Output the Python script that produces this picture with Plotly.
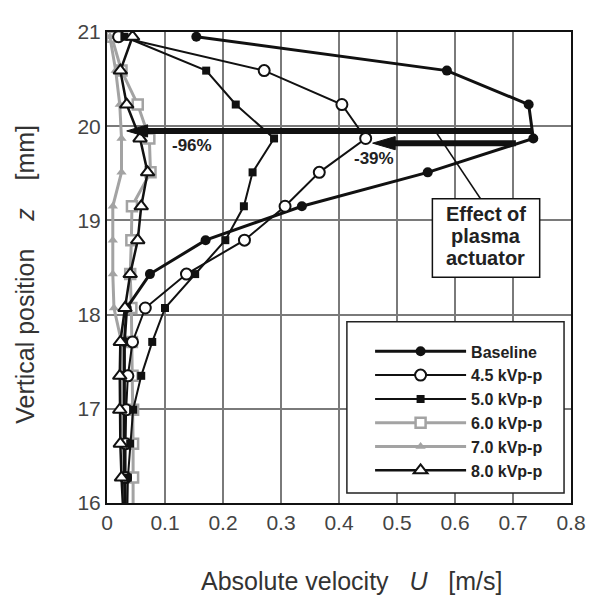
import plotly.graph_objects as go

# Vertical positions of the measurement rows [mm]
z = [20.95, 20.59, 20.23, 19.87, 19.51, 19.15, 18.79, 18.43, 18.07, 17.71, 17.35, 16.99, 16.63, 16.27, 15.91]

u_base = [0.154, 0.586, 0.727, 0.735, 0.553, 0.336, 0.170, 0.074, 0.034, 0.030, 0.030, 0.030, 0.030, 0.030, 0.032]
u_45 = [0.020, 0.271, 0.405, 0.446, 0.366, 0.307, 0.237, 0.137, 0.066, 0.044, 0.036, 0.033, 0.032, 0.032, 0.032]
u_50 = [0.030, 0.171, 0.222, 0.288, 0.251, 0.236, 0.204, 0.152, 0.100, 0.078, 0.059, 0.045, 0.040, 0.036, 0.035]
u_60 = [0.008, 0.025, 0.053, 0.073, 0.075, 0.043, 0.042, 0.040, 0.042, 0.043, 0.044, 0.045, 0.045, 0.045, 0.045]
u_70 = [0.005, 0.015, 0.022, 0.025, 0.025, 0.010, 0.010, 0.010, 0.012, 0.025, 0.025, 0.025, 0.028, 0.030, 0.030]
u_80 = [0.044, 0.023, 0.034, 0.057, 0.070, 0.059, 0.053, 0.040, 0.031, 0.023, 0.022, 0.022, 0.023, 0.025, 0.028]

names = ["Baseline", "4.5 kVp-p", "5.0 kVp-p", "6.0 kVp-p", "7.0 kVp-p", "8.0 kVp-p"]
x_ticks = [0, 0.1, 0.2, 0.3, 0.4, 0.5, 0.6, 0.7, 0.8]
y_ticks = [16, 17, 18, 19, 20, 21]

BLACK = "#111111"
GRAY = "#a3a3a3"
FONT = "Liberation Sans, Arial, sans-serif"
SP = "\u00a0"

fig = go.Figure()

# gray series first (drawn underneath)
fig.add_trace(go.Scatter(x=u_60, y=z, name=names[3], mode="lines+markers", legendrank=4,
                         line=dict(color=GRAY, width=3),
                         marker=dict(symbol="square", size=10, color="white", line=dict(color=GRAY, width=2.5))))
fig.add_trace(go.Scatter(x=u_70, y=z, name=names[4], mode="lines+markers", legendrank=5,
                         line=dict(color=GRAY, width=3),
                         marker=dict(symbol="triangle-up", size=9, color=GRAY, line=dict(width=0))))
fig.add_trace(go.Scatter(x=u_base, y=z, name=names[0], mode="lines+markers", legendrank=1,
                         line=dict(color=BLACK, width=3),
                         marker=dict(symbol="circle", size=10, color=BLACK)))
fig.add_trace(go.Scatter(x=u_45, y=z, name=names[1], mode="lines+markers", legendrank=2,
                         line=dict(color=BLACK, width=2),
                         marker=dict(symbol="circle", size=11, color="white", line=dict(color=BLACK, width=2))))
fig.add_trace(go.Scatter(x=u_50, y=z, name=names[2], mode="lines+markers", legendrank=3,
                         line=dict(color=BLACK, width=2),
                         marker=dict(symbol="square", size=8, color=BLACK)))
fig.add_trace(go.Scatter(x=u_80, y=z, name=names[5], mode="lines+markers", legendrank=6,
                         line=dict(color=BLACK, width=2.5),
                         marker=dict(symbol="triangle-up", size=12, color="white", line=dict(color=BLACK, width=2))))

shapes = []
# legend frame (white box)
shapes.append(dict(type="rect", xref="paper", yref="paper", x0=0.517, x1=0.985, y0=0.021, y1=0.385,
                   line=dict(color="#222", width=1.5), fillcolor="white", layer="above"))
# arrow 1 (-96%)
shapes.append(dict(type="line", xref="x", yref="y", x0=0.062, x1=0.733, y0=19.95, y1=19.95,
                   line=dict(color=BLACK, width=6), layer="above"))
shapes.append(dict(type="path", xref="x", yref="y",
                   path="M 0.034 19.95 L 0.070 20.015 L 0.070 19.885 Z",
                   fillcolor=BLACK, line=dict(color=BLACK, width=1), layer="above"))
# arrow 2 (-39%)
shapes.append(dict(type="line", xref="x", yref="y", x0=0.490, x1=0.705, y0=19.82, y1=19.82,
                   line=dict(color=BLACK, width=6), layer="above"))
shapes.append(dict(type="path", xref="x", yref="y",
                   path="M 0.458 19.82 L 0.497 19.89 L 0.497 19.75 Z",
                   fillcolor=BLACK, line=dict(color=BLACK, width=1), layer="above"))
# leader line to the text box
shapes.append(dict(type="line", xref="x", yref="y", x0=0.568, y0=19.93, x1=0.644, y1=19.23,
                   line=dict(color=BLACK, width=1.5), layer="above"))
# text box
shapes.append(dict(type="rect", xref="x", yref="y", x0=0.561, x1=0.746, y0=18.396, y1=19.229,
                   line=dict(color=BLACK, width=1.5), fillcolor="white", layer="above"))

annotations = [
    dict(x=0.146, y=19.79, xref="x", yref="y", text="<b>-96%</b>", showarrow=False,
         font=dict(family=FONT, size=17, color="#222")),
    dict(x=0.461, y=19.66, xref="x", yref="y", text="<b>-39%</b>", showarrow=False,
         font=dict(family=FONT, size=17, color="#222")),
    dict(x=0.653, y=19.07, xref="x", yref="y", text="<b>Effect of</b>", showarrow=False,
         font=dict(family=FONT, size=20, color="#222")),
    dict(x=0.653, y=18.835, xref="x", yref="y", text="<b>plasma</b>", showarrow=False,
         font=dict(family=FONT, size=20, color="#222")),
    dict(x=0.653, y=18.605, xref="x", yref="y", text="<b>actuator</b>", showarrow=False,
         font=dict(family=FONT, size=20, color="#222")),
    dict(x=0.529, y=-0.2, xref="paper", yref="paper", showarrow=False,
         text="Absolute velocity" + SP * 2 + " <i>U</i>" + SP * 2 + " [m/s]",
         font=dict(family=FONT, size=25, color="#333")),
    dict(x=-0.213, y=0.485, xref="paper", yref="paper", showarrow=False, textangle=-90,
         text="Vertical position" + SP * 3 + " <i>z</i>" + SP * 3 + " [mm]",
         font=dict(family=FONT, size=25, color="#333")),
]

fig.update_layout(
    width=590, height=589,
    margin=dict(l=99, r=19, t=15, b=94),
    paper_bgcolor="white", plot_bgcolor="white",
    font=dict(family=FONT, color="#333"),
    shapes=shapes, annotations=annotations,
    showlegend=True,
    legend=dict(x=0.567, y=0.358, xanchor="left", yanchor="top", bgcolor="rgba(0,0,0,0)",
                borderwidth=0, itemwidth=91, traceorder="normal",
                font=dict(family=FONT, size=16, color="#222", weight="bold")),
)
fig.update_xaxes(range=[0, 0.8], tickvals=x_ticks, showgrid=True, gridcolor="#7a7a7a", gridwidth=1.5,
                 showline=True, linecolor="#111", linewidth=2, mirror=True, zeroline=False,
                 ticks="", tickfont=dict(family=FONT, size=21, color="#444"))
fig.update_yaxes(range=[16, 21], tickvals=y_ticks, showgrid=True, gridcolor="#7a7a7a", gridwidth=1.5,
                 showline=True, linecolor="#111", linewidth=2, mirror=True, zeroline=False,
                 ticks="", tickfont=dict(family=FONT, size=21, color="#444"))

fig.write_html("out.html")
